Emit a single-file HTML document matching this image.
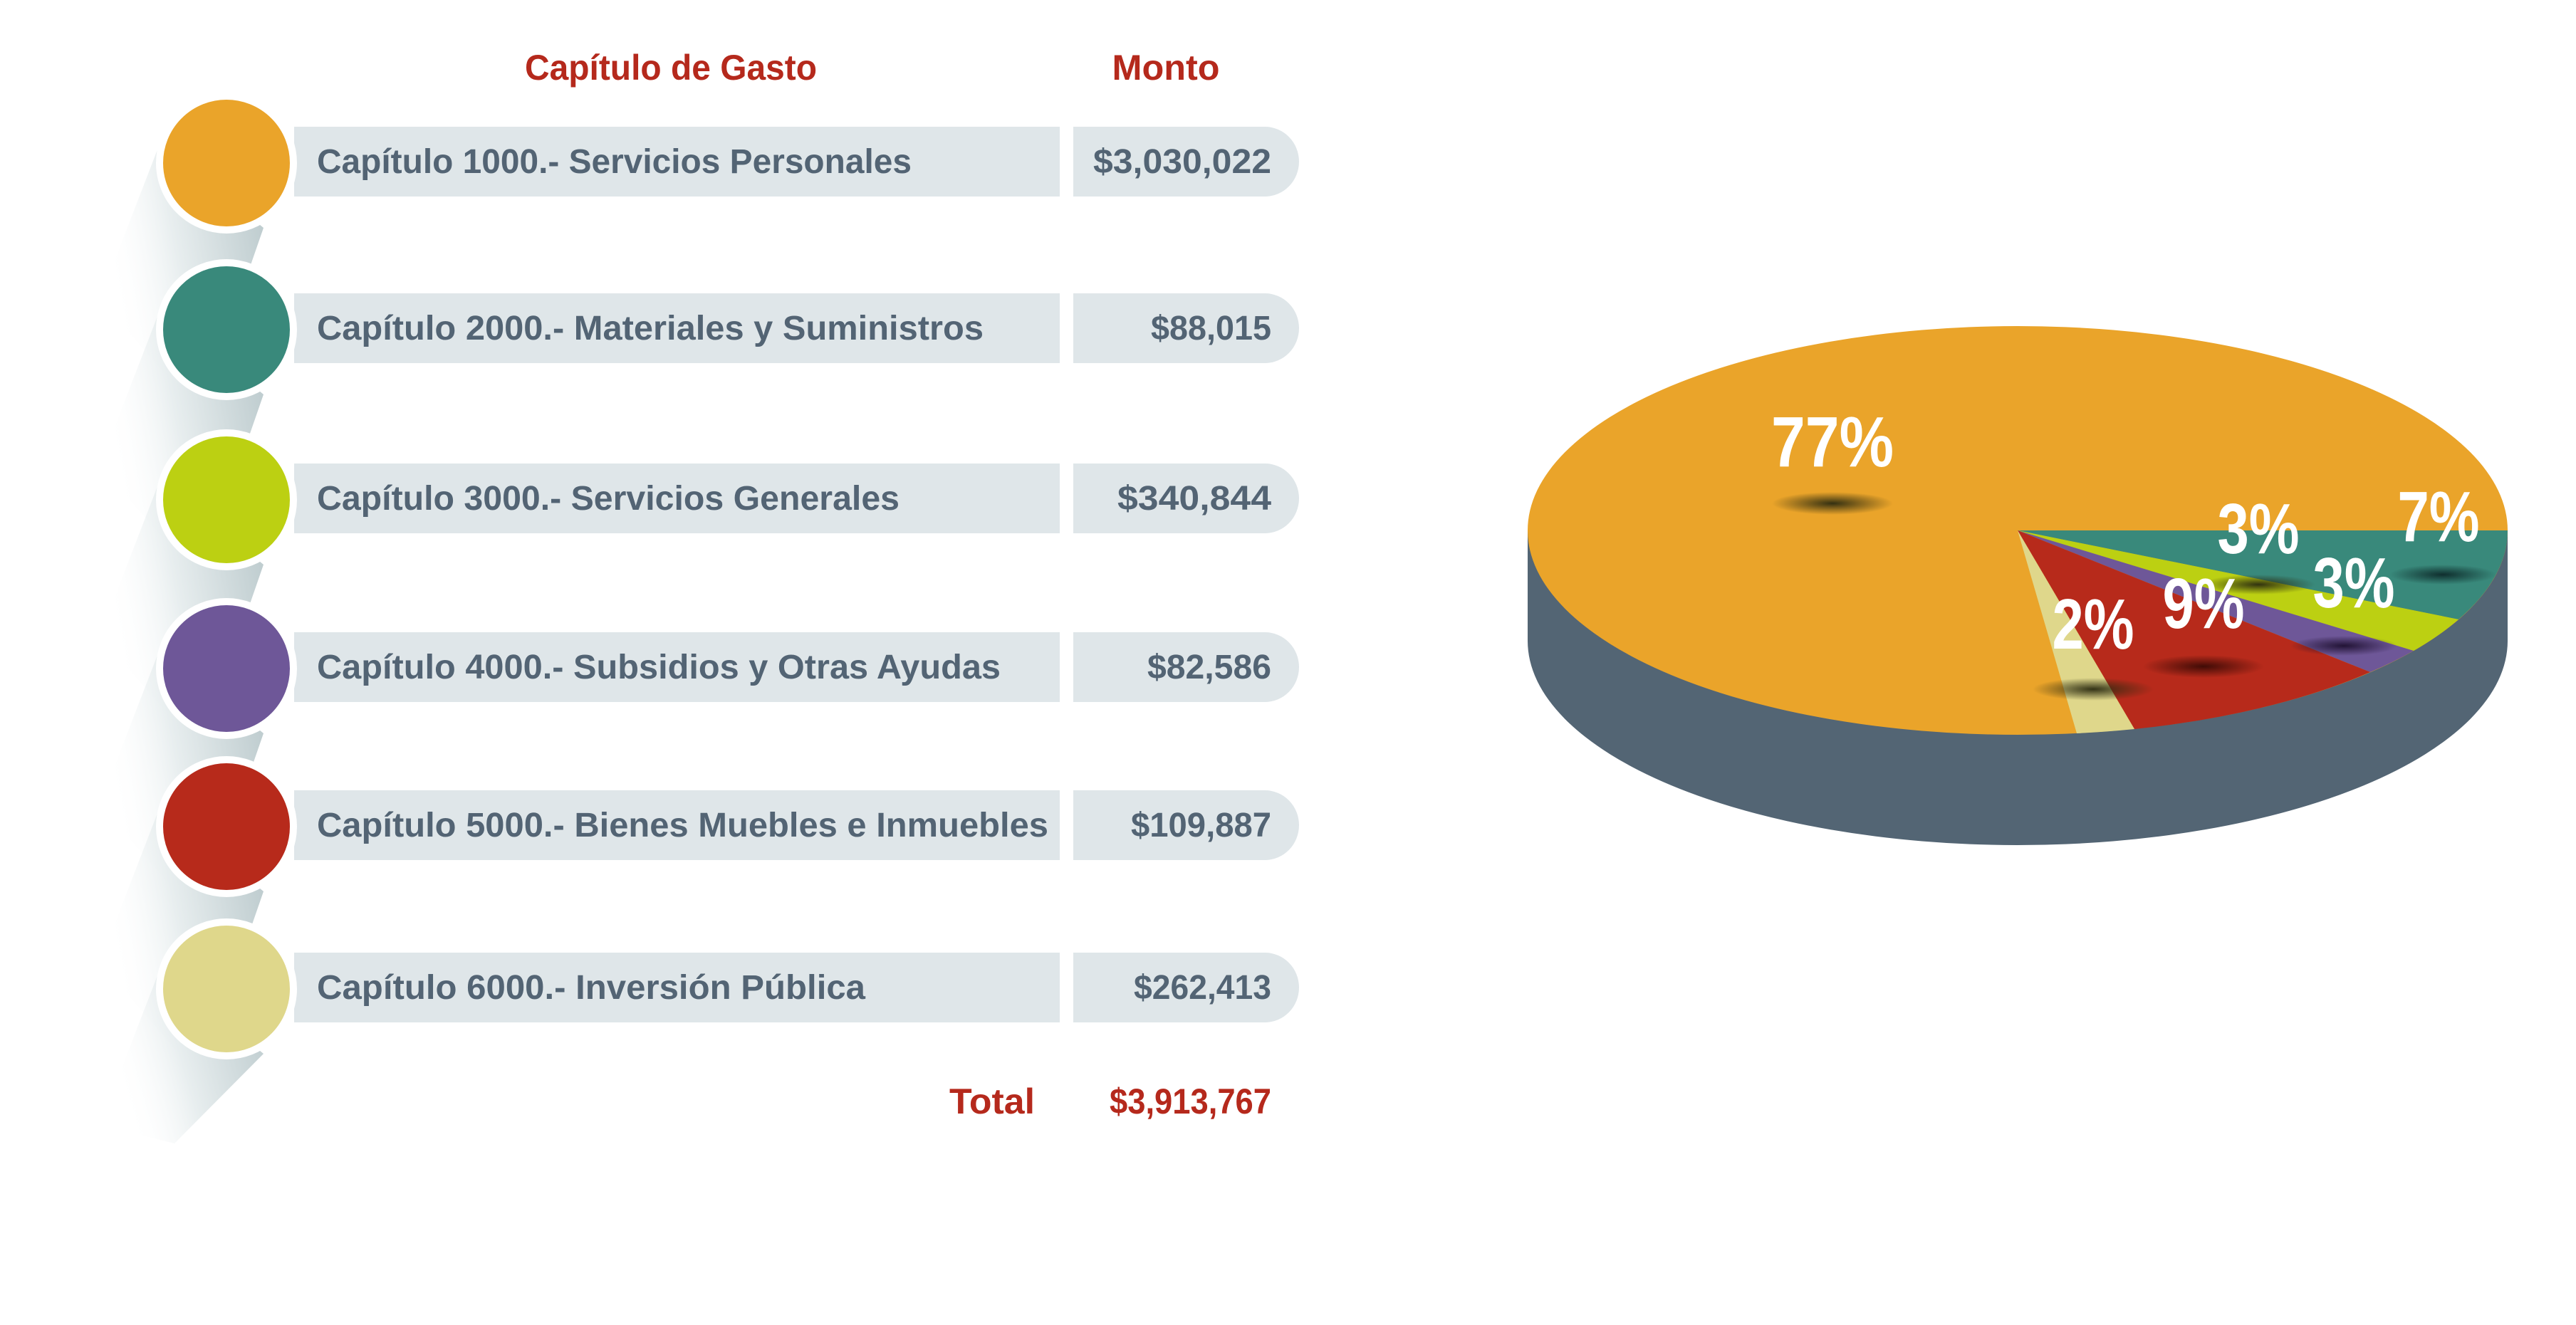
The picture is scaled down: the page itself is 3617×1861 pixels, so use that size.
<!DOCTYPE html>
<html><head><meta charset="utf-8"><style>
html,body{margin:0;padding:0;background:#fff;}
svg{display:block;}
text{font-family:"Liberation Sans",sans-serif;font-weight:bold;}
</style></head><body>
<svg width="3617" height="1861" viewBox="0 0 3617 1861" xmlns="http://www.w3.org/2000/svg">
<defs>
<linearGradient id="sh" x1="1" y1="0" x2="0" y2="0.3">
<stop offset="0" stop-color="#b8c7ca"/><stop offset="0.6" stop-color="#e8eeef"/><stop offset="1" stop-color="#fff" stop-opacity="0"/>
</linearGradient>
<radialGradient id="dk"><stop offset="0" stop-color="#2a2a10" stop-opacity="0.95"/><stop offset="1" stop-color="#2a2a10" stop-opacity="0"/></radialGradient>
<radialGradient id="dr"><stop offset="0" stop-color="#3a0a05" stop-opacity="0.95"/><stop offset="1" stop-color="#3a0a05" stop-opacity="0"/></radialGradient>
<radialGradient id="dt"><stop offset="0" stop-color="#0d2a2a" stop-opacity="0.95"/><stop offset="1" stop-color="#0d2a2a" stop-opacity="0"/></radialGradient>
<radialGradient id="dp"><stop offset="0" stop-color="#1e1030" stop-opacity="0.95"/><stop offset="1" stop-color="#1e1030" stop-opacity="0"/></radialGradient>
</defs>

<text x="942" y="112" font-size="50" fill="#b5291c" text-anchor="middle" textLength="410" lengthAdjust="spacingAndGlyphs">Capítulo de Gasto</text>
<text x="1637" y="112" font-size="50" fill="#b5291c" text-anchor="middle" textLength="151" lengthAdjust="spacingAndGlyphs">Monto</text>

<g fill="url(#sh)">
<polygon points="225,200 370,320 280,580 140,420"/>
<polygon points="225,434 370,554 280,814 140,654"/>
<polygon points="225,673 370,793 280,1053 140,893"/>
<polygon points="225,910 370,1030 280,1290 140,1130"/>
<polygon points="225,1132 370,1252 280,1512 140,1352"/>
<polygon points="225,1360 370,1480 245,1606 140,1580"/>
</g>

<g fill="#dfe6e9">
<rect x="413" y="178" width="1075" height="98"/><path d="M1507,178 H1776 A48,49 0 0 1 1776,276 H1507 Z"/>
<rect x="413" y="412" width="1075" height="98"/><path d="M1507,412 H1776 A48,49 0 0 1 1776,510 H1507 Z"/>
<rect x="413" y="651" width="1075" height="98"/><path d="M1507,651 H1776 A48,49 0 0 1 1776,749 H1507 Z"/>
<rect x="413" y="888" width="1075" height="98"/><path d="M1507,888 H1776 A48,49 0 0 1 1776,986 H1507 Z"/>
<rect x="413" y="1110" width="1075" height="98"/><path d="M1507,1110 H1776 A48,49 0 0 1 1776,1208 H1507 Z"/>
<rect x="413" y="1338" width="1075" height="98"/><path d="M1507,1338 H1776 A48,49 0 0 1 1776,1436 H1507 Z"/>
</g>
<g stroke="#fff" stroke-width="10">
<circle cx="318" cy="229" r="94" fill="#eaa42a"/>
<circle cx="318" cy="463" r="94" fill="#39897b"/>
<circle cx="318" cy="702" r="94" fill="#bcd012"/>
<circle cx="318" cy="939" r="94" fill="#6e5798"/>
<circle cx="318" cy="1161" r="94" fill="#b72a1b"/>
<circle cx="318" cy="1389" r="94" fill="#dfd78b"/>
</g>
<g font-size="48" fill="#536474">
<text x="445" y="243" textLength="835" lengthAdjust="spacingAndGlyphs">Capítulo 1000.- Servicios Personales</text>
<text x="445" y="477" textLength="936" lengthAdjust="spacingAndGlyphs">Capítulo 2000.- Materiales y Suministros</text>
<text x="445" y="716" textLength="818" lengthAdjust="spacingAndGlyphs">Capítulo 3000.- Servicios Generales</text>
<text x="445" y="953" textLength="960" lengthAdjust="spacingAndGlyphs">Capítulo 4000.- Subsidios y Otras Ayudas</text>
<text x="445" y="1175" textLength="1027" lengthAdjust="spacingAndGlyphs">Capítulo 5000.- Bienes Muebles e Inmuebles</text>
<text x="445" y="1403" textLength="770" lengthAdjust="spacingAndGlyphs">Capítulo 6000.- Inversión Pública</text>
</g>
<g font-size="48" fill="#536474" text-anchor="end">
<text x="1785" y="243" textLength="250" lengthAdjust="spacingAndGlyphs">$3,030,022</text>
<text x="1785" y="477" textLength="169" lengthAdjust="spacingAndGlyphs">$88,015</text>
<text x="1785" y="716" textLength="216" lengthAdjust="spacingAndGlyphs">$340,844</text>
<text x="1785" y="953" textLength="174" lengthAdjust="spacingAndGlyphs">$82,586</text>
<text x="1785" y="1175" textLength="197" lengthAdjust="spacingAndGlyphs">$109,887</text>
<text x="1785" y="1403" textLength="193" lengthAdjust="spacingAndGlyphs">$262,413</text>
</g>
<text x="1453" y="1564" font-size="50" fill="#b5291c" text-anchor="end" textLength="120" lengthAdjust="spacingAndGlyphs">Total</text>
<text x="1785" y="1564" font-size="50" fill="#b5291c" text-anchor="end" textLength="227" lengthAdjust="spacingAndGlyphs">$3,913,767</text>

<path d="M2145,745 L2145,900 A688,287 0 0 0 3521,900 L3521,745 Z" fill="#536574"/>
<ellipse cx="2833" cy="745" rx="688" ry="287" fill="#eaa42a"/>
<path d="M2833,745 L3521,745 A688,287 0 0 1 3452,870 Z" fill="#39897b"/>
<path d="M2833,745 L3452,870 A688,287 0 0 1 3389,914 Z" fill="#bcd012"/>
<path d="M2833,745 L3389,914 A688,287 0 0 1 3328,944 Z" fill="#6e5798"/>
<path d="M2833,745 L3328,944 A688,287 0 0 1 2997,1024 Z" fill="#b72a1b"/>
<path d="M2833,745 L2997,1024 A688,287 0 0 1 2916,1030 Z" fill="#dfd78b"/>
<ellipse cx="2573" cy="707" rx="85" ry="16" fill="url(#dk)"/>
<ellipse cx="3171" cy="821" rx="80" ry="14" fill="url(#dk)"/>
<ellipse cx="3430" cy="807" rx="75" ry="14" fill="url(#dt)"/>
<ellipse cx="3291" cy="907" rx="75" ry="14" fill="url(#dp)"/>
<ellipse cx="3094" cy="936" rx="85" ry="16" fill="url(#dr)"/>
<ellipse cx="2939" cy="968" rx="85" ry="16" fill="url(#dk)"/>
<g font-size="100" fill="#fff" text-anchor="middle">
<text x="2573" y="655" textLength="172" lengthAdjust="spacingAndGlyphs">77%</text>
<text x="3424" y="760" textLength="115" lengthAdjust="spacingAndGlyphs">7%</text>
<text x="3171" y="777" textLength="115" lengthAdjust="spacingAndGlyphs">3%</text>
<text x="3305" y="853" textLength="115" lengthAdjust="spacingAndGlyphs">3%</text>
<text x="3094" y="882" textLength="115" lengthAdjust="spacingAndGlyphs">9%</text>
<text x="2939" y="911" textLength="115" lengthAdjust="spacingAndGlyphs">2%</text>
</g>
</svg>
</body></html>
